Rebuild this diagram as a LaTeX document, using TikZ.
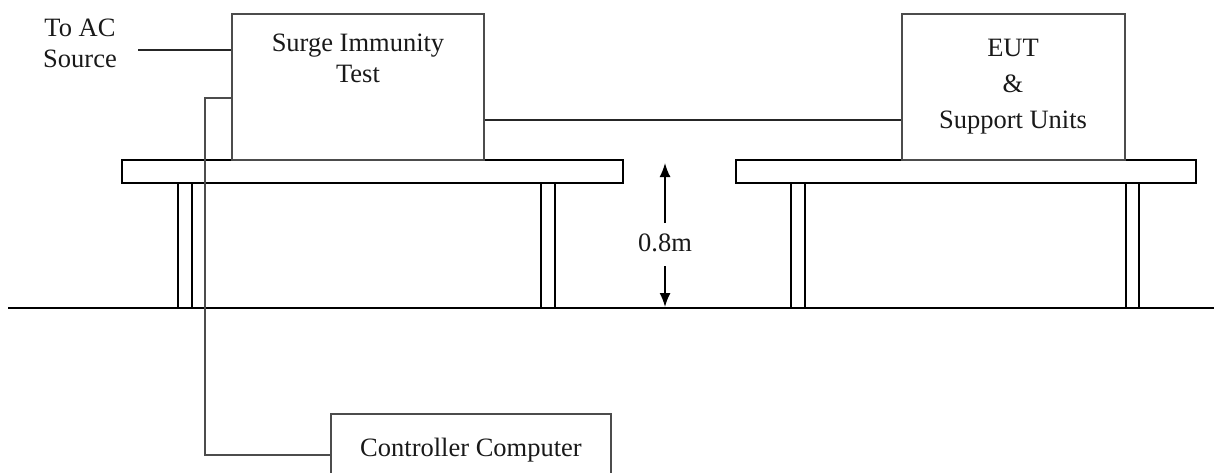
\documentclass[tikz,border=0pt]{standalone}
\usepackage{fontspec}
\setmainfont{Liberation Serif}
\usetikzlibrary{arrows.meta}
\tikzset{
  unitbox/.style={draw=black!70, line width=1.6pt, inner sep=0pt, fill=white},
  furn/.style={draw=black, line width=1.6pt, fill=white},
  wire/.style={draw=black!85, line width=1.6pt},
  lbl/.style={font=\fontsize{26.5}{31}\selectfont, align=center, inner sep=0pt, text=black!90},
  dim/.style={draw=black, line width=1.6pt, -{Latex[length=14pt,width=11pt]}}
}
\begin{document}
\begin{tikzpicture}[x=1pt,y=-1pt]
\useasboundingbox (0,0) rectangle (1214,472);
\clip (0,0) rectangle (1214,472);
% floor
\coordinate (fl) at (8,308);
\coordinate (fr) at (1214,308);
\draw[furn] (fl) -- (fr);
% left table
\draw[furn] (178,183) rectangle (192,308);
\draw[furn] (541,183) rectangle (555,308);
\draw[furn] (122,160) rectangle (623,183);
% right table
\draw[furn] (791,183) rectangle (805,308);
\draw[furn] (1126,183) rectangle (1139,308);
\draw[furn] (736,160) rectangle (1196,183);
% units
\node[unitbox, minimum width=252pt, minimum height=146pt] (surge) at (358,87) {};
\node[lbl] (surget) at (358,58) {Surge Immunity\\Test};
\node[unitbox, minimum width=223pt, minimum height=146pt] (eut) at (1013.5,87) {};
\node[lbl, font=\fontsize{26.5}{36}\selectfont] (eutt) at (1013,87) {EUT\\\&\\Support Units};
\node[unitbox, minimum width=280pt, minimum height=80pt] (ctrl) at (471,454) {};
\node[lbl] (ctrlt) at (471,450) {Controller Computer};
\node[lbl] (ac) at (80,43) {To AC\\Source};
% dimension
\node[lbl] (dimt) at (665,243) {0.8m};
\coordinate (dtop) at (665,163);
\coordinate (dbot) at (665,307);
\draw[dim] ([yshift=20pt]dimt.center) -- (dtop);
\draw[dim] ([yshift=-23pt]dimt.center) -- (dbot);
% wires
\coordinate (acend) at (138,50);
\draw[wire] (acend) -- (acend -| surge.west);
\coordinate (m) at (0,120);
\draw[wire] (m -| surge.east) -- (m -| eut.west);
\coordinate (c1) at (205,98);
\coordinate (c2) at (205,455);
\draw[wire, draw=black!70] (c1 -| surge.west) -- (c1) -- (c2) -- (c2 -| ctrl.west);
\end{tikzpicture}
\end{document}
